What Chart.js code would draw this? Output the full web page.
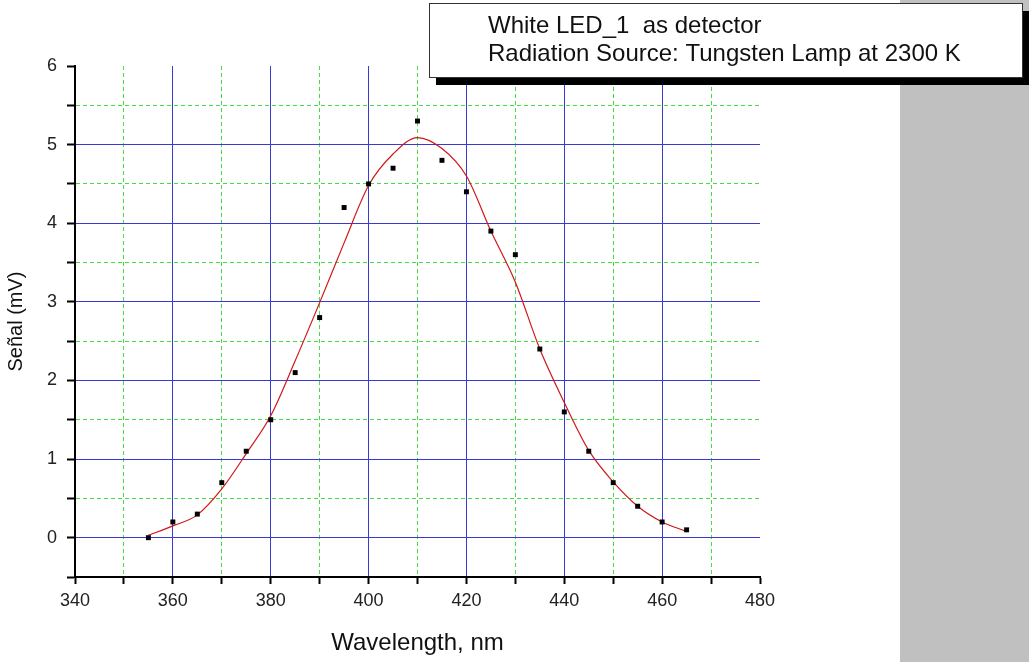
<!DOCTYPE html>
<html>
<head>
<meta charset="utf-8">
<script src="https://cdn.jsdelivr.net/npm/chart.js@4.4.1/dist/chart.umd.min.js"></script>
<style>
  body { margin: 0; background: #fff; }
  #wrap { width: 1029px; height: 662px; }
</style>
</head>
<body>
<div id="wrap"><canvas id="chart" width="1029" height="662"></canvas></div>
<script>
// measured points
const wavelength = [355, 360, 365, 370, 375, 380, 385, 390, 395, 400, 405, 410,
                    415, 420, 425, 430, 435, 440, 445, 450, 455, 460, 465];
const signal = [0.0, 0.2, 0.3, 0.7, 1.1, 1.5, 2.1, 2.8, 4.2, 4.5, 4.7, 5.3,
                4.8, 4.4, 3.9, 3.6, 2.4, 1.6, 1.1, 0.7, 0.4, 0.2, 0.1];

// fitted curve, sampled every 5 nm
const fitWavelength = [355, 360, 365, 370, 375, 380, 385, 390, 395, 400, 405, 410,
                       415, 420, 425, 430, 435, 440, 445, 450, 455, 460, 465];
const fitSignal = [0.03, 0.15, 0.29, 0.62, 1.07, 1.55, 2.25, 2.99, 3.75, 4.48, 4.88, 5.09,
                   4.95, 4.6, 3.9, 3.25, 2.4, 1.72, 1.11, 0.71, 0.4, 0.2, 0.08];

const infoLines = ['White LED_1  as detector', 'Radiation Source: Tungsten Lamp at 2300 K'];

const FONT = '"Liberation Sans", Arial, sans-serif';
const BLUE = '#3a3ad2';
const GREEN = '#44dd44';
const isWhole = v => Math.abs(v - Math.round(v)) < 1e-9;

const background = {
  id: 'background',
  beforeDraw(chart) {
    const ctx = chart.ctx;
    ctx.save();
    ctx.fillStyle = '#fff';
    ctx.fillRect(0, 0, chart.width, chart.height);
    ctx.fillStyle = '#c0c0c0';
    ctx.fillRect(900, 0, chart.width - 900, chart.height);
    ctx.restore();
  }
};

// text box with a drop shadow in the top right corner
const infoBox = {
  id: 'infoBox',
  afterDraw(chart) {
    const ctx = chart.ctx;
    const x = 429, y = 3, w = 593, h = 74;
    ctx.save();
    ctx.fillStyle = '#000';
    ctx.fillRect(x + 7, y + 8, w, h);
    ctx.fillStyle = '#fff';
    ctx.fillRect(x, y, w, h);
    ctx.strokeStyle = '#333';
    ctx.lineWidth = 1;
    ctx.strokeRect(x + 0.5, y + 0.5, w, h);
    ctx.fillStyle = '#111';
    ctx.font = '24px ' + FONT;
    ctx.textBaseline = 'middle';
    ctx.fillText(infoLines[0], 488, 26);
    ctx.fillText(infoLines[1], 488, 54);
    ctx.restore();
  }
};

new Chart(document.getElementById('chart'), {
  type: 'scatter',
  data: {
    datasets: [
      {
        label: 'Signal',
        data: wavelength.map((x, i) => ({ x, y: signal[i] })),
        pointStyle: 'rect',
        pointRadius: 3.5,
        backgroundColor: '#000',
        borderColor: '#000',
        borderWidth: 0,
        order: 0
      },
      {
        label: 'Fit',
        type: 'line',
        data: fitWavelength.map((x, i) => ({ x, y: fitSignal[i] })),
        borderColor: '#d01818',
        borderWidth: 1.2,
        pointRadius: 0,
        cubicInterpolationMode: 'monotone',
        fill: false,
        order: 1
      }
    ]
  },
  options: {
    responsive: false,
    animation: false,
    layout: { padding: { left: 0, right: 269, top: 66, bottom: 0 } },
    plugins: { legend: { display: false }, tooltip: { enabled: false } },
    scales: {
      x: {
        type: 'linear',
        min: 340,
        max: 480,
        afterFit: s => { s.height = 85; },
        ticks: {
          stepSize: 10,
          autoSkip: false,
          maxRotation: 0,
          padding: 6,
          color: '#222',
          font: { family: FONT, size: 18 },
          callback: v => (v % 20 === 0 ? v : '')
        },
        grid: {
          color: c => {
            const v = c.tick.value;
            if (v === 340 || v === 480) return 'rgba(0,0,0,0)';
            return v % 20 === 0 ? BLUE : GREEN;
          },
          lineWidth: 1,
          tickColor: '#000',
          tickLength: 7,
          tickWidth: 2
        },
        border: {
          color: '#000',
          width: 2,
          dash: c => (c.tick && c.tick.value % 20 !== 0 ? [4, 3] : [])
        },
        title: {
          display: true,
          text: 'Wavelength, nm',
          color: '#111',
          font: { family: FONT, size: 24 },
          padding: { top: 0 }
        }
      },
      y: {
        min: -0.5,
        max: 6,
        afterFit: s => { s.width = 75; },
        ticks: {
          stepSize: 0.5,
          autoSkip: false,
          padding: 10,
          color: '#222',
          font: { family: FONT, size: 18 },
          callback: v => (isWhole(v) ? Math.round(v) : '')
        },
        grid: {
          color: c => {
            const v = c.tick.value;
            if (v <= -0.5 || v >= 6) return 'rgba(0,0,0,0)';
            return isWhole(v) ? BLUE : GREEN;
          },
          lineWidth: 1,
          tickColor: '#000',
          tickLength: 8,
          tickWidth: 2
        },
        border: {
          color: '#000',
          width: 2,
          dash: c => (c.tick && !isWhole(c.tick.value) ? [4, 3] : [])
        },
        title: {
          display: true,
          text: 'Señal (mV)',
          color: '#111',
          font: { family: FONT, size: 20 },
          padding: { bottom: 0 }
        }
      }
    }
  },
  plugins: [background, infoBox]
});
</script>
</body>
</html>
